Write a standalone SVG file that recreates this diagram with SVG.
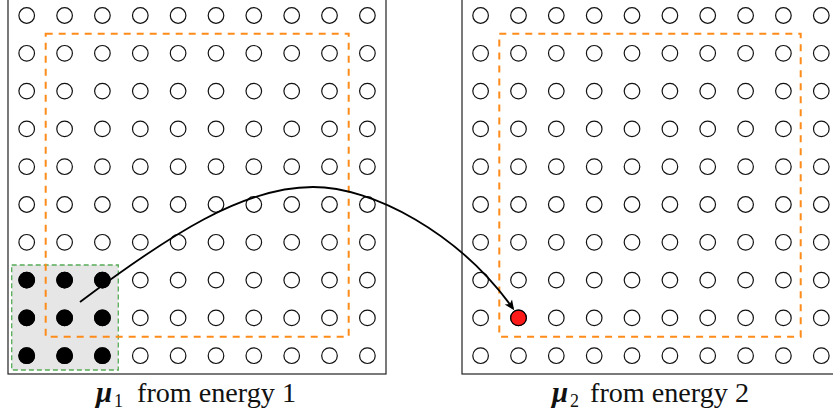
<svg xmlns="http://www.w3.org/2000/svg" xmlns:xlink="http://www.w3.org/1999/xlink" width="833" height="417" viewBox="0 0 833 417">
<style>
.frame{fill:none;stroke:#222;stroke-width:1.2}
.pt{fill:#fff;stroke:#111;stroke-width:1.2}
.on{fill:#000;stroke:#000;stroke-width:1.2}
.sel{fill:#ff1a1a;stroke:#000;stroke-width:1.2}
.interior{fill:none;stroke:#ff8c1a;stroke-width:2;stroke-dasharray:7 6}
.patch{fill:#e6e6e6;stroke:#55aa55;stroke-width:1.3;stroke-dasharray:5 3}
.arrow{fill:none;stroke:#000;stroke-width:1.8}
.lbl{font-family:"Liberation Serif","DejaVu Serif",serif;font-size:27px;fill:#111}
.mu{font-weight:bold;font-style:italic;font-size:29px}
.sub{font-size:18px}
</style>
<defs>
<g id="col">
<circle class="pt" cx="0" cy="15.5" r="7.8"/>
<circle class="pt" cx="0" cy="53.3" r="7.8"/>
<circle class="pt" cx="0" cy="91.1" r="7.8"/>
<circle class="pt" cx="0" cy="128.9" r="7.8"/>
<circle class="pt" cx="0" cy="166.7" r="7.8"/>
<circle class="pt" cx="0" cy="204.5" r="7.8"/>
<circle class="pt" cx="0" cy="242.3" r="7.8"/>
<circle class="pt" cx="0" cy="280.1" r="7.8"/>
<circle class="pt" cx="0" cy="317.9" r="7.8"/>
<circle class="pt" cx="0" cy="355.7" r="7.8"/>
</g>
<marker id="ah" markerUnits="userSpaceOnUse" viewBox="-10 -5 12 10" markerWidth="12" markerHeight="10" refX="-1" refY="0" orient="auto">
<path d="M-9,-4.5 L1,0 L-9,4.5 L-6.5,0 z" fill="#000"/>
</marker>
</defs>

<g id="panel1">
<rect class="frame" x="8" y="-2" width="378" height="376"/>
<rect id="patch1" class="patch" x="11.7" y="265" width="106.6" height="105"/>
<rect id="interior1" class="interior" x="45.7" y="33.7" width="303" height="303"/>
<g id="grid1">
<use xlink:href="#col" x="26.7"/>
<use xlink:href="#col" x="64.6"/>
<use xlink:href="#col" x="102.4"/>
<use xlink:href="#col" x="140.3"/>
<use xlink:href="#col" x="178.1"/>
<use xlink:href="#col" x="216"/>
<use xlink:href="#col" x="253.8"/>
<use xlink:href="#col" x="291.7"/>
<use xlink:href="#col" x="329.5"/>
<use xlink:href="#col" x="367.4"/>
</g>
<g id="neighbourhood">
<circle class="on" cx="26.7" cy="280.1" r="7.8"/>
<circle class="on" cx="64.6" cy="280.1" r="7.8"/>
<circle class="on" cx="102.4" cy="280.1" r="7.8"/>
<circle class="on" cx="26.7" cy="317.9" r="7.8"/>
<circle class="on" cx="64.6" cy="317.9" r="7.8"/>
<circle class="on" cx="102.4" cy="317.9" r="7.8"/>
<circle class="on" cx="26.7" cy="355.7" r="7.8"/>
<circle class="on" cx="64.6" cy="355.7" r="7.8"/>
<circle class="on" cx="102.4" cy="355.7" r="7.8"/>
</g>
<text class="lbl" y="401.5"><tspan class="mu" x="96">μ</tspan><tspan class="sub" x="114" y="406.5">1</tspan><tspan x="137" y="401.5" textLength="159" lengthAdjust="spacingAndGlyphs">from energy 1</tspan></text>
</g>

<g id="panel2">
<rect class="frame" x="462" y="-2" width="380" height="376"/>
<rect id="interior2" class="interior" x="499.3" y="33.7" width="301.4" height="303"/>
<g id="grid2">
<use xlink:href="#col" x="480.6"/>
<use xlink:href="#col" x="518.5"/>
<use xlink:href="#col" x="556.3"/>
<use xlink:href="#col" x="594.2"/>
<use xlink:href="#col" x="632"/>
<use xlink:href="#col" x="669.9"/>
<use xlink:href="#col" x="707.7"/>
<use xlink:href="#col" x="745.6"/>
<use xlink:href="#col" x="783.4"/>
<use xlink:href="#col" x="821.3"/>
</g>
<circle id="target" class="sel" cx="518.5" cy="317.9" r="7.8"/>
<text class="lbl" y="401.5"><tspan class="mu" x="552">μ</tspan><tspan class="sub" x="570" y="406.5">2</tspan><tspan x="590" y="401.5" textLength="159" lengthAdjust="spacingAndGlyphs">from energy 2</tspan></text>
</g>

<g id="connectors">
<path class="arrow" d="M80,302 C170,234.5 243,187 313,187 C373,187 459,233 513,308.5" marker-end="url(#ah)"/>
</g>
</svg>
